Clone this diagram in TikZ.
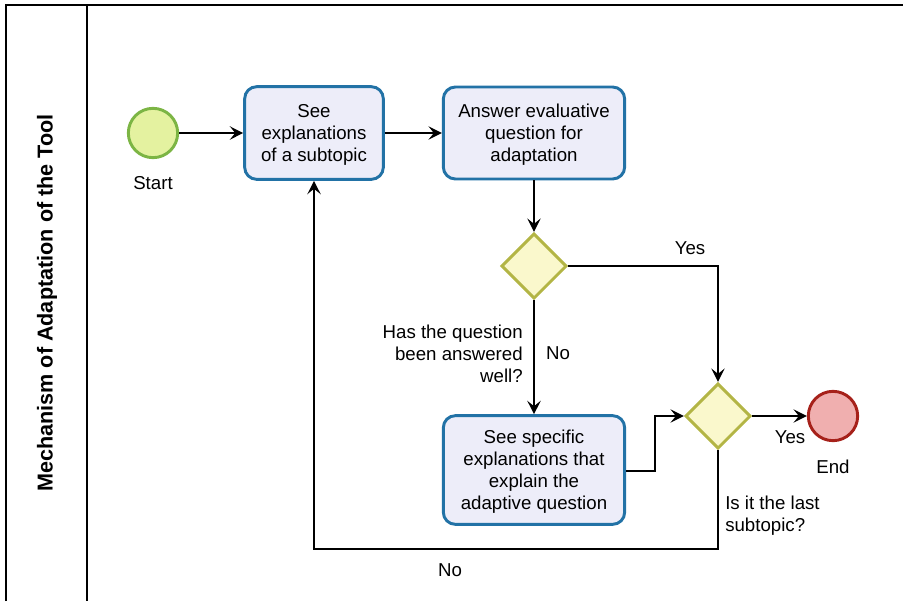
\documentclass[tikz,border=0pt]{standalone}
\usepackage{fontspec}
\setmainfont{Liberation Sans}
\usetikzlibrary{shapes.geometric,arrows.meta,positioning}

\definecolor{taskfill}{HTML}{EDEDF9}
\definecolor{taskline}{HTML}{2272A6}
\definecolor{startfill}{HTML}{E4F2A0}
\definecolor{startline}{HTML}{7CB544}
\definecolor{gatefill}{HTML}{FAF8CC}
\definecolor{gateline}{HTML}{B3B545}
\definecolor{endfill}{HTML}{F0AFAF}
\definecolor{endline}{HTML}{A6211A}

\tikzset{
  txt/.style={font=\fontsize{14}{16.6}\selectfont, inner sep=0pt},
  task/.style={draw=taskline, fill=taskfill, line width=2.2pt, rounded corners=9pt,
               align=center, txt, text depth=0pt},
  startev/.style={circle, draw=startline, fill=startfill, line width=2.2pt, minimum size=37pt, inner sep=0pt},
  endev/.style={circle, draw=endline, fill=endfill, line width=2.2pt, minimum size=37pt, inner sep=0pt},
  gate/.style={diamond, shape aspect=1, draw=gateline, fill=gatefill, line width=2.2pt,
               minimum size=49pt, inner sep=0pt},
  flow/.style={draw=black, line width=1.4pt, -{Stealth[length=10pt,width=10pt,inset=4pt]}},
  frame/.style={draw=black, line width=1.6pt},
}

\begin{document}
\begin{tikzpicture}[x=0.75pt, y=-0.75pt]
  \useasboundingbox (0,0) rectangle (903,601);

  % pool frame and lane header
  \draw[frame] (6,601) -- (6,5) -- (903,5);
  \draw[frame] (87,5) -- (87,601);
  \node[rotate=90, font=\fontsize{16.2}{19}\selectfont\bfseries, inner sep=0pt] (title) at (47,303)
    {Mechanism of Adaptation of the Tool};

  % events, tasks and gateways
  \node[startev] (start) at (153,133) {};
  \node[txt] (startlbl) at (153,183) {Start};

  \node[task, minimum width=104pt, minimum height=69.5pt] (see) at (314,133)
    {See\\explanations\\of a subtopic};
  \node[task, minimum width=136pt, minimum height=69pt] (answer) at (534,133)
    {Answer evaluative\\question for\\adaptation};

  \node[gate] (q1) at (534,266) {};
  \node[gate] (q2) at (718,416) {};

  \node[task, minimum width=136pt, minimum height=81.5pt] (spec) at (534,470)
    {See specific\\explanations that\\explain the\\adaptive question};

  \node[endev] (end) at (833,416) {};
  \node[txt] (endlbl) at (833,467) {End};

  % sequence flows
  \draw[flow] (start) -- (see);
  \draw[flow] (see) -- (answer);
  \draw[flow] (answer) -- (q1);
  \draw[flow] (q1.east) -| (q2.north);
  \draw[flow] (q1.south) -- (spec.north);
  \coordinate (bend) at (655,471);
  \draw[flow] (spec.east |- bend) -- (bend) |- (q2.west);
  \draw[flow] (q2) -- (end);
  \coordinate (loop) at (718,549);
  \draw[flow] (q2.south) -- (loop) -| (see.south);

  % flow and gateway labels
  \node[txt] (yes1) at (690,248) {Yes};
  \node[txt] (no1) at (558,353) {No};
  \node[txt, align=right, anchor=east] (q1lbl) at (523,354)
    {Has the question\\been answered\\well?};
  \node[txt] (yes2) at (790,437) {Yes};
  \node[txt, align=left, anchor=west] (q2lbl) at (725,516)
    {Is it the last\\subtopic?};
  \node[txt] (no2) at (450,570) {No};
\end{tikzpicture}
\end{document}
